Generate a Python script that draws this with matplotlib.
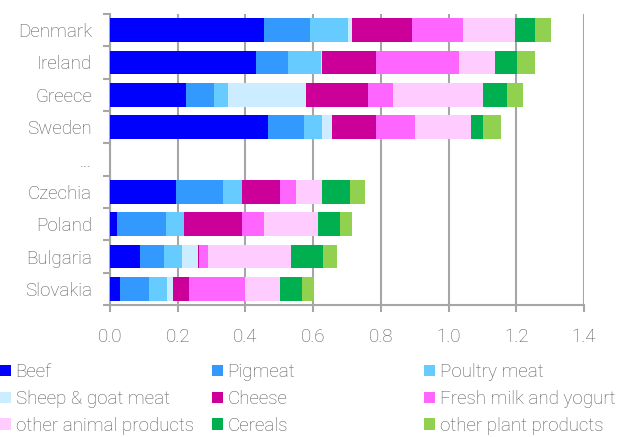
import numpy as np
import matplotlib.pyplot as plt
from matplotlib.patches import Patch

countries = ["Denmark", "Ireland", "Greece", "Sweden", "...",
             "Czechia", "Poland", "Bulgaria", "Slovakia"]

categories = ["Beef", "Pigmeat", "Poultry meat", "Sheep & goat meat", "Cheese",
              "Fresh milk and yogurt", "other animal products", "Cereals",
              "other plant products"]

# values per country, "..." row is empty
beef = [0.454, 0.431, 0.224, 0.466, 0, 0.194, 0.021, 0.087, 0.028]
pigmeat = [0.136, 0.094, 0.082, 0.107, 0, 0.141, 0.143, 0.071, 0.088]
poultry = [0.114, 0.097, 0.042, 0.054, 0, 0.055, 0.055, 0.053, 0.053]
sheep_goat = [0.012, 0.005, 0.232, 0.030, 0, 0.0, 0.0, 0.048, 0.017]
cheese = [0.177, 0.160, 0.183, 0.130, 0, 0.112, 0.170, 0.003, 0.047]
milk_yogurt = [0.149, 0.243, 0.072, 0.113, 0, 0.048, 0.065, 0.028, 0.167]
other_animal = [0.154, 0.107, 0.266, 0.166, 0, 0.077, 0.161, 0.244, 0.102]
cereals = [0.059, 0.065, 0.071, 0.035, 0, 0.083, 0.065, 0.094, 0.064]
other_plant = [0.048, 0.054, 0.048, 0.054, 0, 0.042, 0.036, 0.042, 0.037]

series = [beef, pigmeat, poultry, sheep_goat, cheese, milk_yogurt,
          other_animal, cereals, other_plant]
colors = ["#0000FF", "#3399FF", "#66CCFF", "#CCECFF", "#CC0099",
          "#FF66FF", "#FFCCFF", "#00B050", "#92D050"]

plt.rcParams['font.family'] = ['Roboto', 'DejaVu Sans']
plt.rcParams['font.weight'] = 'light'
text_color = "#595959"
grid_color = "#A6A6A6"
fs = 13.5

fig = plt.figure(figsize=(6.4, 4.37), dpi=100)
ax = fig.add_axes([0.172, 0.302, 0.7405, 0.666])

y = np.arange(len(countries))
left = np.zeros(len(countries))
for vals, col, name in zip(series, colors, categories):
    vals = np.array(vals)
    ax.barh(y, vals, left=left, height=0.74, color=col, linewidth=0, label=name, zorder=3)
    left += vals

ax.set_ylim(len(countries) - 0.5, -0.5)
ax.set_xlim(0, 1.4)
ax.set_xticks(np.arange(0, 1.41, 0.2))
ax.set_xticklabels([f"{v:.1f}" for v in np.arange(0, 1.41, 0.2)])
ax.set_yticks(y)
ax.set_yticklabels(countries)
ax.set_yticks(np.arange(-0.5, len(countries), 1), minor=True)
ax.tick_params(axis='y', which='major', length=0, pad=13, labelsize=fs, labelcolor=text_color)
ax.tick_params(axis='y', which='minor', length=5, width=1.5, color=grid_color)
ax.tick_params(axis='x', length=5, width=1.5, color=grid_color, labelsize=fs,
               labelcolor=text_color, pad=11.5)

ax.grid(axis='x', color=grid_color, linewidth=1.5, zorder=0)
for s in ["top", "right"]:
    ax.spines[s].set_visible(False)
for s in ["left", "bottom"]:
    ax.spines[s].set_color(grid_color)
    ax.spines[s].set_linewidth(1.5)

# legend in three fixed-position columns
handles = [Patch(facecolor=c, edgecolor='none') for c in colors]
col_x = [0.0, 0.331, 0.6625]
for i, x0 in enumerate(col_x):
    idx = [i, i + 3, i + 6]
    fig.legend([handles[k] for k in idx], [categories[k] for k in idx],
               loc='upper left', bbox_to_anchor=(x0, 0.169), frameon=False,
               prop={'size': fs, 'weight': 'light'}, labelcolor=text_color,
               handlelength=0.58, handleheight=0.58,
               handletextpad=0.25, labelspacing=0.47, borderaxespad=0, borderpad=0)

fig.savefig("out.png", dpi=100)
